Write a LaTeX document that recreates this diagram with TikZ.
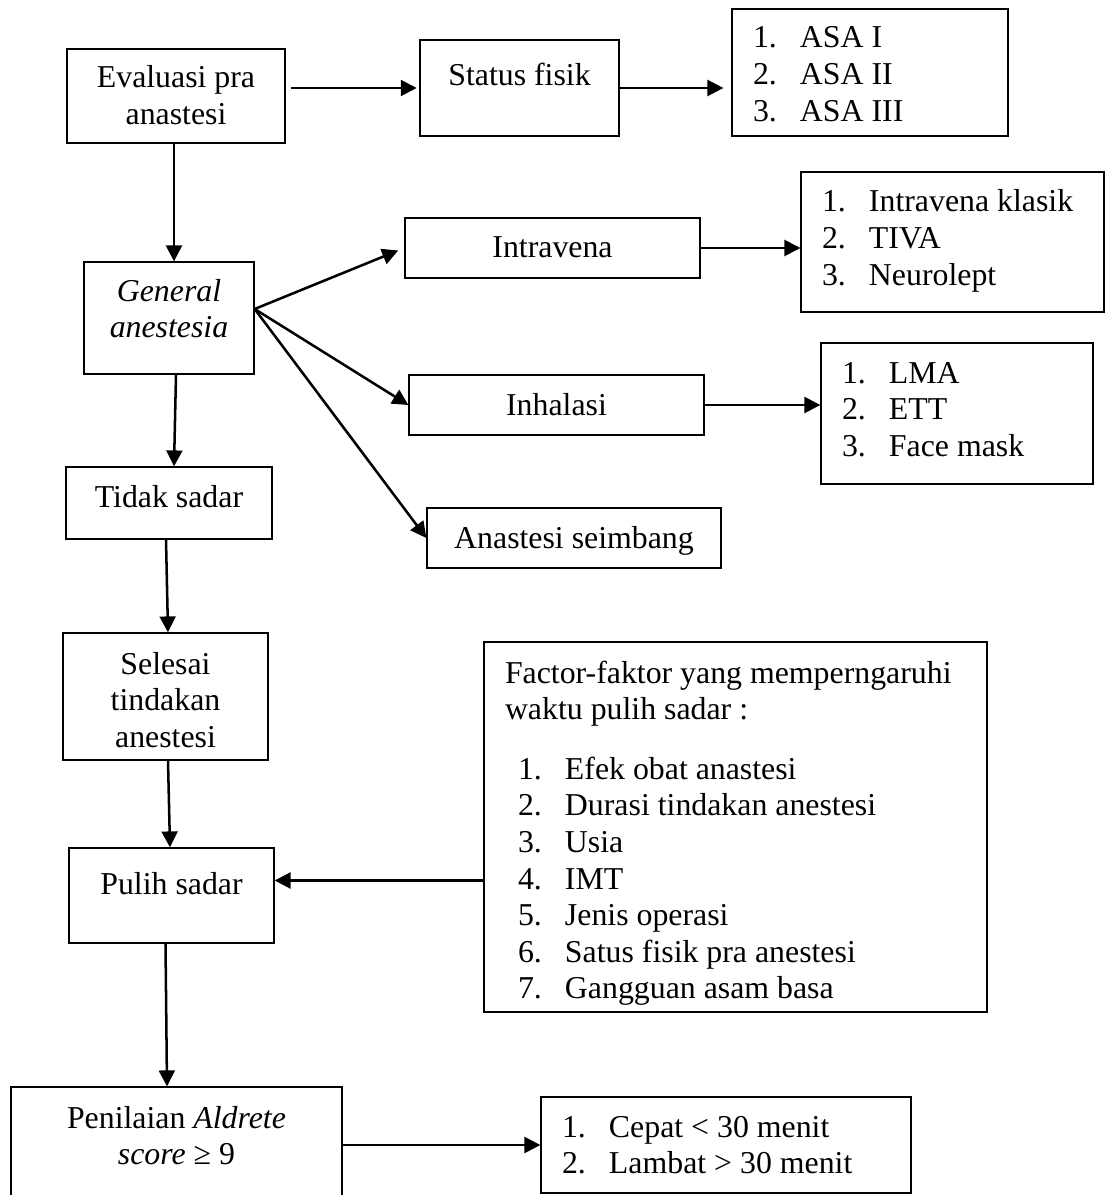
\documentclass[tikz,border=0pt]{standalone}
\usepackage{fontspec}
\setmainfont{Liberation Serif}
\usepackage{tikz}
\usetikzlibrary{arrows.meta, positioning, calc}
\newlength{\unitpx}
\setlength{\unitpx}{0.377pt}
\newcommand{\stk}[1]{\begin{tabular}[t]{@{}c@{}}#1\end{tabular}}
\newcommand{\numlist}[1]{\begin{tabular}[t]{@{}p{47\unitpx}@{}l@{}}#1\end{tabular}}
\newcommand{\lbox}[2]{\makebox[#1\unitpx][l]{#2}}

\begin{document}
\begin{tikzpicture}[
  x=0.377pt, y=-0.377pt,
  box/.style={
    rectangle, draw, line width=0.5pt, inner sep=0pt,
    font=\fontsize{12}{13.8}\selectfont
  },
  size/.style n args={3}{
    minimum width=#1*\unitpx, minimum height=#2*\unitpx,
    text height=#3*\unitpx, text depth=(#2-#3)*\unitpx
  },
  arrow/.style={-{Triangle[length=6pt, width=6pt]}, line width=0.95pt}
]
\useasboundingbox (0,0) rectangle (1105,1195);

% ---- left column ----
\node[box, size={218}{94}{39}]  (eval)        at (176,96)      {\stk{Evaluasi pra\\anastesi}};
\node[box, size={170}{112}{39}] (general)     at (169,318)     {\stk{\textit{General}\\\textit{anestesia}}};
\node[box, size={206}{72}{40}]  (unconscious) at (169,503)     {Tidak sadar};
\node[box, size={205}{127}{41}] (done)        at (165.5,696.5) {\stk{Selesai\\tindakan\\anestesi}};
\node[box, size={205}{95}{46}]  (recover)     at (171.5,895.5) {Pulih sadar};
\node[box, size={331}{128}{41}] (aldrete)     at (176.5,1151)  {\stk{Penilaian \textit{Aldrete}\\\textit{score} ≥ 9}};

% ---- middle column ----
\node[box, size={199}{96}{46}]  (status)  at (519.5,88)  {Status fisik};
\node[box, size={295}{60}{39}]  (iv)      at (552.5,248) {Intravena};
\node[box, size={295}{60}{40}]  (inh)     at (556.5,405) {Inhalasi};
\node[box, size={294}{60}{40}]  (balance) at (574,538)   {Anastesi seimbang};

% ---- lists on the right ----
\node[box, size={276}{127}{39}] (asa)     at (870,72.5)  {\lbox{234}{\numlist{1. & ASA I\\ 2. & ASA II\\ 3. & ASA III}}};
\node[box, size={303}{140}{40}] (ivlist)  at (952.5,242) {\lbox{261}{\numlist{1. & Intravena klasik\\ 2. & TIVA\\ 3. & Neurolept}}};
\node[box, size={272}{141}{40}] (inhlist) at (957,413.5) {\lbox{230}{\numlist{1. & LMA\\ 2. & ETT\\ 3. & Face mask}}};
\node[box, size={503}{370}{41}] (factors) at (735.5,827) {\lbox{461}{\begin{tabular}[t]{@{}l@{}}
  Factor-faktor yang memperngaruhi\\
  waktu pulih sadar :\\[23\unitpx]
  \hspace{13\unitpx}\numlist{1. & Efek obat anastesi\\ 2. & Durasi tindakan anestesi\\ 3. & Usia\\
    4. & IMT\\ 5. & Jenis operasi\\ 6. & Satus fisik pra anestesi\\ 7. & Gangguan asam basa}
  \end{tabular}}};
\node[box, size={370}{96}{40}]  (result)  at (726,1145)  {\lbox{328}{\numlist{1. & Cepat < 30 menit\\ 2. & Lambat > 30 menit}}};

% ---- helper points ----
\coordinate (evdown) at ($(eval.south)+(-2,0)$);    % foot of the first box
\coordinate (fan) at ($(general.east)+(0,-9)$);     % common start of the three branches
\coordinate (lvl) at ($(recover.east)+(0,-15)$);    % height of the factor arrow

% ---- connectors ----
\draw[arrow, shorten <=2pt, shorten >=1pt] (eval.east |- status.west) -- (status.west);
\draw[arrow, shorten >=3pt] (status.east) -- (status.east -| asa.west);
\draw[arrow] (evdown) -- (evdown |- general.north);

\draw[arrow, shorten >=2.5pt] (fan) -- (iv.west);
\draw[arrow] (fan) -- (inh.west);
\draw[arrow] (fan) -- (balance.west);

\draw[arrow] (iv.east) -- (iv.east -| ivlist.west);
\draw[arrow] (inh.east) -- (inh.east -| inhlist.west);

\draw[arrow] ($(general.south)+(7,0)$) -- ($(unconscious.north)+(5,0)$);
\draw[arrow] ($(unconscious.south)+(-3,0)$) -- ($(done.north)+(2.5,0)$);
\draw[arrow] ($(done.south)+(2.5,0)$) -- ($(recover.north)+(-1.5,0)$);
\draw[arrow] (factors.west |- lvl) -- (lvl);
\draw[arrow] ($(recover.south)+(-6,0)$) -- ($(aldrete.north)+(-9.5,0)$);
\draw[arrow] (aldrete.east |- result.west) -- (result.west);

\end{tikzpicture}
\end{document}
